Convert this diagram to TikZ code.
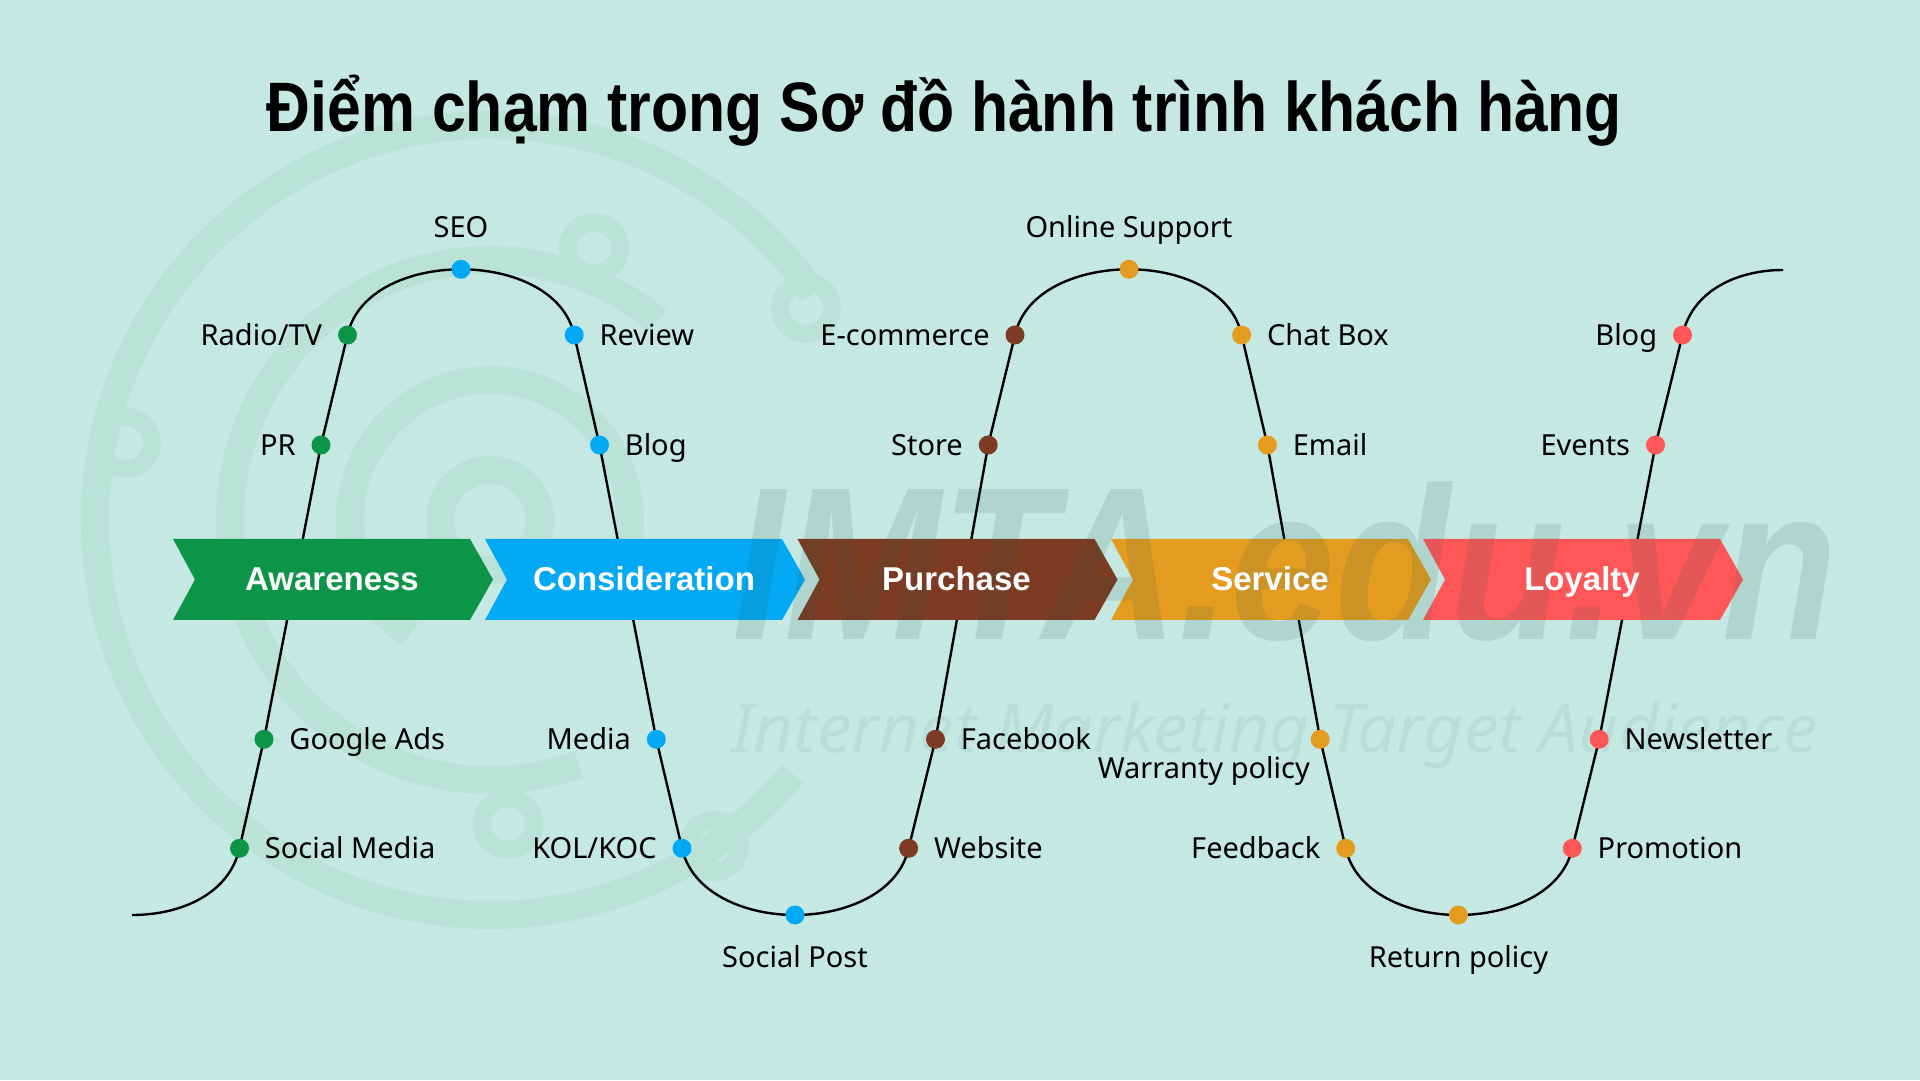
\documentclass[tikz,border=0pt]{standalone}
\usepackage{graphicx}
\usepackage{fontspec}
\setmainfont{Noto Sans}
\newfontfamily\headfont{Liberation Sans}
\usetikzlibrary{positioning}

\definecolor{bgcol}{RGB}{197,232,226}
\definecolor{cgreen}{RGB}{12,149,72}
\definecolor{cblue}{RGB}{3,169,244}
\definecolor{cbrown}{RGB}{124,59,34}
\definecolor{corange}{RGB}{228,156,32}
\definecolor{cred}{RGB}{255,87,87}
\definecolor{wmark}{RGB}{40,90,85}
\definecolor{ring}{RGB}{186,226,215}

\pgfdeclarelayer{back}
\pgfsetlayers{back,main}

\tikzset{
  dot/.style={circle, minimum size=19pt, inner sep=0pt},
  lbl/.style={font=\fontsize{29}{34}\selectfont, text height=20.7pt, text depth=0pt, inner sep=0pt},
  stage/.style={font=\headfont\fontsize{33}{40}\selectfont\bfseries, text=white, text height=23.5pt, text depth=0pt, inner sep=0pt},
  logo/.style={draw=ring, line width=28pt},
}

\begin{document}
\begin{tikzpicture}[x=1pt, y=1pt, node distance=15.5pt]
\useasboundingbox (0,0) rectangle (1920,1080);

% title
\node[anchor=base] (title) at (944.5,948) {\resizebox{1355pt}{\height}{\headfont\fontsize{70}{84}\selectfont\bfseries Điểm chạm trong Sơ đồ hành trình khách hàng}};

% touch points
\node[dot, fill=cgreen] (smedia) at (239.5,231.7) {};
\node[dot, fill=cgreen] (gads) at (264,340.7) {};
\node[dot, fill=cgreen] (pr) at (321,635) {};
\node[dot, fill=cgreen] (radio) at (347.5,745) {};
\node[dot, fill=cblue] (seo) at (461,810.7) {};
\node[dot, fill=cblue] (review) at (574.2,745) {};
\node[dot, fill=cblue] (blogA) at (599.5,635) {};
\node[dot, fill=cblue] (media) at (656.3,340.7) {};
\node[dot, fill=cblue] (kol) at (682,231.7) {};
\node[dot, fill=cblue] (spost) at (795,165) {};
\node[dot, fill=cbrown] (website) at (908.6,231.7) {};
\node[dot, fill=cbrown] (facebook) at (935.5,340.7) {};
\node[dot, fill=cbrown] (store) at (988.2,635) {};
\node[dot, fill=cbrown] (ecom) at (1015,745) {};
\node[dot, fill=corange] (online) at (1129,810.7) {};
\node[dot, fill=corange] (chat) at (1241.6,745) {};
\node[dot, fill=corange] (email) at (1267.4,635) {};
\node[dot, fill=corange] (warranty) at (1320.2,340.7) {};
\node[dot, fill=corange] (feedback) at (1345.7,231.7) {};
\node[dot, fill=corange] (retpol) at (1458.4,165) {};
\node[dot, fill=cred] (promo) at (1572.3,231.7) {};
\node[dot, fill=cred] (news) at (1599.2,340.7) {};
\node[dot, fill=cred] (events) at (1655.5,635) {};
\node[dot, fill=cred] (blogB) at (1682.5,745) {};
\coordinate (start) at (132,165);
\coordinate (finish) at (1783,810);

% labels
\node[lbl, right=of smedia] (t-smedia) {Social Media};
\node[lbl, right=of gads] (t-gads) {Google Ads};
\node[lbl, left=of pr] (t-pr) {PR};
\node[lbl, left=of radio] (t-radio) {Radio/TV};
\node[lbl, above=22pt of seo] (t-seo) {SEO};
\node[lbl, right=of review] (t-review) {Review};
\node[lbl, right=of blogA] (t-blogA) {Blog};
\node[lbl, left=of media] (t-media) {Media};
\node[lbl, left=of kol] (t-kol) {KOL/KOC};
\node[lbl, below=22pt of spost] (t-spost) {Social Post};
\node[lbl, right=of website] (t-website) {Website};
\node[lbl, right=of facebook] (t-facebook) {Facebook};
\node[lbl, left=of store] (t-store) {Store};
\node[lbl, left=of ecom] (t-ecom) {E-commerce};
\node[lbl, above=22pt of online] (t-online) {Online Support};
\node[lbl, right=of chat] (t-chat) {Chat Box};
\node[lbl, right=of email] (t-email) {Email};
\node[lbl, below left=11.4pt and 3.3pt of warranty] (t-warranty) {Warranty policy};
\node[lbl, left=of feedback] (t-feedback) {Feedback};
\node[lbl, below=22pt of retpol] (t-retpol) {Return policy};
\node[lbl, right=of promo] (t-promo) {Promotion};
\node[lbl, right=of news] (t-news) {Newsletter};
\node[lbl, left=of events] (t-events) {Events};
\node[lbl, left=of blogB] (t-blogB) {Blog};

% stage names
\foreach \x/\name/\txt in {173/aw/Awareness, 485/co/Consideration, 797.5/pu/Purchase, 1111/se/Service, 1423/lo/Loyalty}
  \node[stage] (\name) at (\x+159,501.5) {\txt};

\begin{pgfonlayer}{back}
\fill[bgcol] (0,0) rectangle (1920,1080);
% faint logo
\draw[logo] (490,560) circle (50);
\draw[logo] ([shift={(-30:140)}]490,560) arc[start angle=-30, end angle=235, radius=140];
\draw[logo] ([shift={(50:260)}]490,560) arc[start angle=50, end angle=290, radius=260];
\draw[logo] ([shift={(35:395)}]490,560) arc[start angle=35, end angle=320, radius=395];
\draw[logo, line width=18pt] (126,637) circle (26);
\draw[logo, line width=18pt] (806,772) circle (26);
\draw[logo, line width=18pt] (594,832) circle (26);
\draw[logo, line width=18pt] (508,256) circle (26);
\draw[logo, line width=18pt] (714,234) circle (26);

% the journey line
\draw[line width=2.4pt] (start) .. controls +(50,0) and +(-10,-45) .. (smedia.center)
  -- (gads.center) -- (pr.center) -- (radio.center)
  .. controls +(10,45) and +(-50,0) .. (seo.center)
  .. controls +(50,0) and +(-10,45) .. (review.center)
  -- (blogA.center) -- (media.center) -- (kol.center)
  .. controls +(10,-45) and +(-50,0) .. (spost.center)
  .. controls +(50,0) and +(-10,-45) .. (website.center)
  -- (facebook.center) -- (store.center) -- (ecom.center)
  .. controls +(10,45) and +(-50,0) .. (online.center)
  .. controls +(50,0) and +(-10,45) .. (chat.center)
  -- (email.center) -- (warranty.center) -- (feedback.center)
  .. controls +(10,-45) and +(-50,0) .. (retpol.center)
  .. controls +(50,0) and +(-10,-45) .. (promo.center)
  -- (news.center) -- (events.center) -- (blogB.center)
  .. controls +(10,45) and +(-45,0) .. (finish);

% chevrons
\foreach \x/\col in {173/cgreen, 485/cblue, 797.5/cbrown, 1111/corange, 1423/cred}
  \fill[\col] (\x,541) -- ++(297,0) -- ++(23,-40.5) -- ++(-23,-40.5) -- ++(-297,0) -- ++(22,40.5) -- cycle;

% watermark
\node[anchor=base west, text=wmark, text opacity=0.13, inner sep=0pt] (wmA) at (732,440) {\resizebox{1105pt}{\height}{\headfont\fontsize{218}{220}\selectfont\bfseries\itshape IMTA.edu.vn}};
\node[anchor=base west, text=wmark, text opacity=0.07, inner sep=0pt] (wmB) at (731,327) {\resizebox{1087pt}{\height}{\fontsize{67}{70}\selectfont\itshape Internet Marketing Target Audience}};
\end{pgfonlayer}
\end{tikzpicture}
\end{document}
